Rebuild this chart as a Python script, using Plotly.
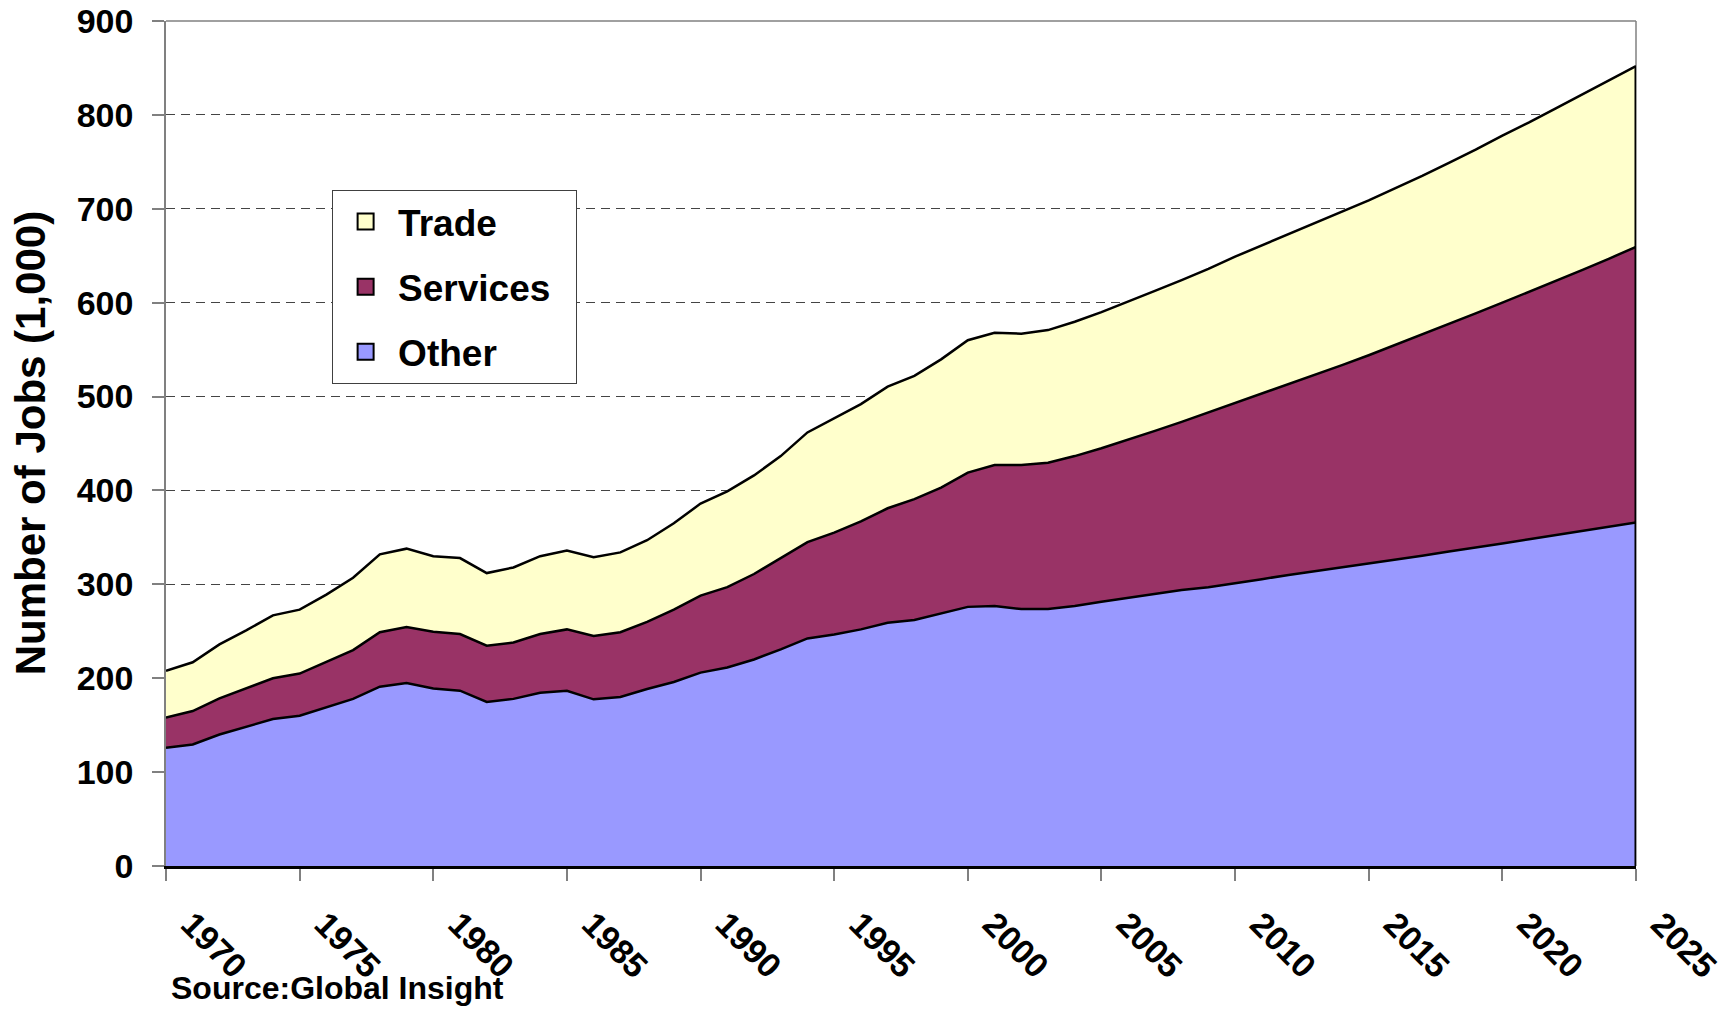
import plotly.graph_objects as go

years = list(range(1970, 2026))

other = [126, 129.5, 140, 148, 156.5, 160, 169, 178, 191, 195,
         189, 186.7, 174.7, 178, 184.6, 186.7, 177.5, 180, 188.5, 196,
         206, 211.5, 220, 230.7, 242.4, 246.6, 252, 259, 262, 269,
         276, 277, 273.7, 273.7, 277, 281.5, 285.7, 289.7, 294, 297,
         301, 305.5, 310, 314, 318, 322, 326, 330.5, 335, 339,
         343.5, 348, 352.5, 357, 361.5, 366]

services = [32, 35.5, 38.6, 41.6, 43.5, 45, 48.6, 52, 58, 59.5,
            60.5, 60.3, 59.9, 60, 62.4, 65.3, 67.5, 69, 71.5, 77,
            82, 85.5, 91, 97.3, 102.6, 108.4, 115, 122, 128.8, 134,
            143, 150, 153.3, 155.8, 159.6, 163.5, 168.3, 173.8, 179, 186,
            192, 197.5, 203, 209, 215.5, 222, 229, 235.5, 242, 249.5,
            256.5, 263.5, 270.5, 278, 285.5, 293.5]

trade = [50, 52, 57.4, 61.4, 67, 68, 71.4, 77, 83, 83.5,
         80.5, 81, 77.4, 80, 83, 84, 84, 85, 87, 92,
         98, 102, 105, 108.6, 116.8, 121.7, 125, 129.5, 131.2, 136.6,
         141, 141, 140, 141.3, 143.1, 145, 147, 149, 151, 153,
         156, 158, 160, 162, 163.5, 165, 167, 169, 172, 174.5,
         178, 180.5, 184, 187, 190, 192.5]

series_names = ["Other", "Services", "Trade"]
legend_labels = ["Other", "Services\u00a0\u00a0", "Trade"]
legend_ranks = [3, 2, 1]
series_colors = ["#9999FF", "#993366", "#FFFFCC"]
y_ticks = [0, 100, 200, 300, 400, 500, 600, 700, 800, 900]
x_ticks = list(range(1970, 2026, 5))

FONT = "Liberation Sans, Arial, sans-serif"

fig = go.Figure()
for name, vals, col, rank in zip(series_names, [other, services, trade],
                                 series_colors, legend_ranks):
    fig.add_trace(go.Scatter(
        x=years, y=vals, name=name, mode="lines",
        stackgroup="one", fillcolor=col,
        line=dict(color="black", width=2.5),
        showlegend=False, legendgroup=name, legendrank=rank,
    ))

# legend-only entries with square swatches (as in the original legend)
for name, label, col, rank in zip(series_names, legend_labels,
                                  series_colors, legend_ranks):
    fig.add_trace(go.Scatter(
        x=[None], y=[None], name=label, mode="markers",
        marker=dict(symbol="square", size=16, color=col,
                    line=dict(color="black", width=2)),
        legendgroup=name, legendrank=rank, showlegend=True,
    ))

# right edge of the stacked area (black border as in original)
last_total = other[-1] + services[-1] + trade[-1]
fig.add_trace(go.Scatter(
    x=[years[-1], years[-1]], y=[0, last_total], mode="lines",
    line=dict(color="black", width=3), showlegend=False, hoverinfo="skip",
))

fig.update_layout(
    width=1736, height=1010,
    margin=dict(l=158, r=108, t=13, b=152),
    paper_bgcolor="white", plot_bgcolor="white",
    font=dict(family=FONT, color="black"),
    showlegend=True,
    legend=dict(
        x=0.113, y=0.80, xanchor="left", yanchor="top",
        traceorder="grouped", tracegroupgap=14,
        itemwidth=55,
        font=dict(family=FONT, size=37, weight="bold", color="black"),
        bgcolor="white", bordercolor="#404040", borderwidth=1,
    ),
    xaxis=dict(
        range=[1970, 2025], tickmode="array", tickvals=x_ticks,
        ticktext=[str(v) for v in x_ticks],
        tickangle=45, ticks="outside", ticklen=12, tickcolor="#808080", tickwidth=1.5,
        tickfont=dict(family=FONT, size=34, weight="bold", color="black"),
        ticklabelstandoff=10, ticklabelshift=25, ticklabeloverflow="allow",
        showgrid=False, zeroline=False, automargin=False,
        showline=True, linecolor="black", linewidth=2.5,
    ),
    yaxis=dict(
        range=[0, 900], tickmode="array", tickvals=y_ticks,
        ticks="outside", ticklen=12, tickcolor="#808080", tickwidth=1.5,
        tickfont=dict(family=FONT, size=34, weight="bold", color="black"),
        ticklabelstandoff=12, ticklabeloverflow="allow",
        showgrid=True, gridcolor="#444444", gridwidth=1, griddash="9px,6px",
        zeroline=False, automargin=False,
        showline=True, linecolor="#808080", linewidth=1.5,
    ),
    shapes=[
        dict(type="line", xref="paper", yref="paper", x0=0, x1=1, y0=1, y1=1,
             line=dict(color="#808080", width=1.5), layer="below"),
        dict(type="line", xref="paper", yref="paper", x0=1, x1=1, y0=0, y1=1,
             line=dict(color="#808080", width=1.5), layer="below"),
    ],
    annotations=[
        dict(text="Number of Jobs (1,000)", xref="paper", yref="paper",
             x=-0.092, y=0.5, xanchor="center", yanchor="middle",
             textangle=-90, showarrow=False,
             font=dict(family=FONT, size=42, weight="bold", color="black")),
        dict(text="Source:Global Insight", xref="paper", yref="paper",
             x=0.0023, y=-0.144, xanchor="left", yanchor="middle",
             showarrow=False,
             font=dict(family=FONT, size=32, weight="bold", color="black")),
    ],
)

fig.write_html("out.html")
